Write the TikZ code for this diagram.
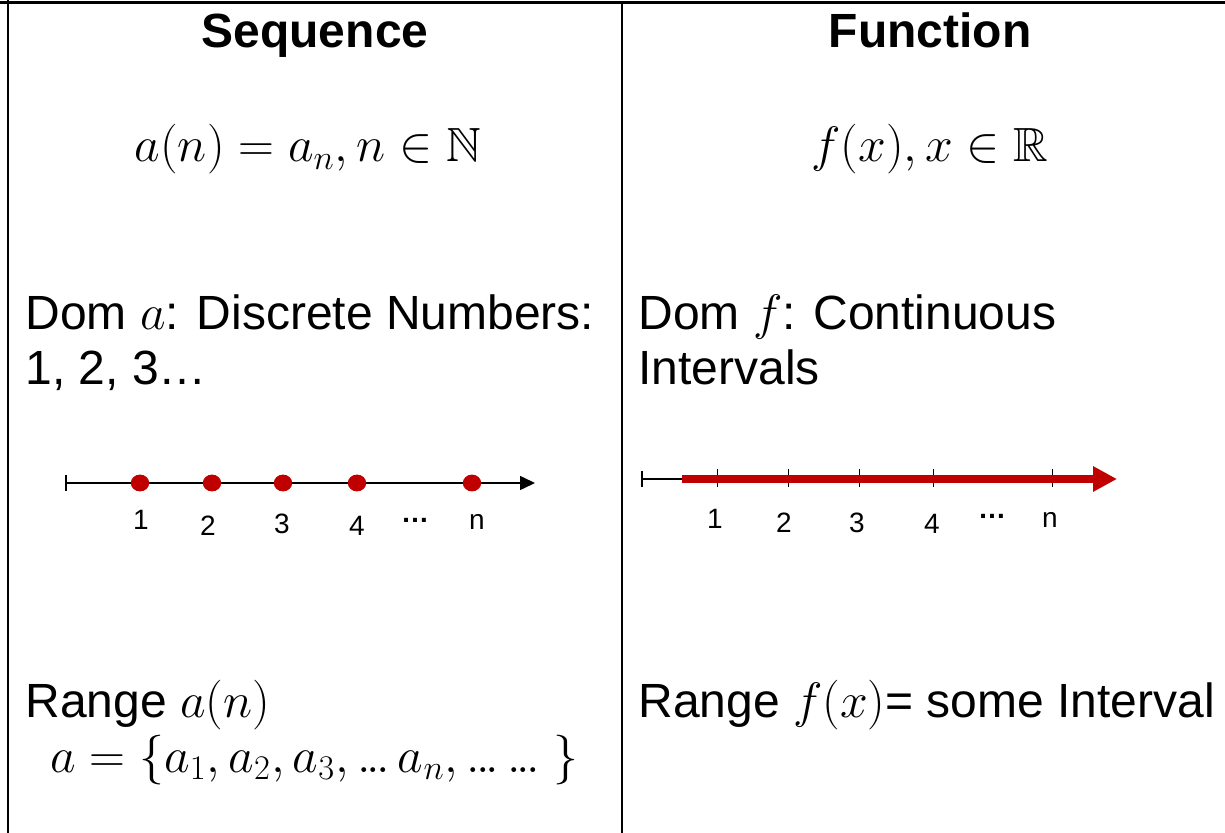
\documentclass[tikz,border=0pt]{standalone}
\usepackage{amssymb}
\usepackage{fontspec}
\setmainfont{Liberation Sans}
\usetikzlibrary{arrows.meta}
\definecolor{dotred}{HTML}{C00000}
\newcommand{\tdots}{\mathord{.\kern-2pt.\kern-2pt.}}
\tikzset{
  big/.style={inner sep=0pt, font=\fontsize{24}{28}\selectfont},
  ttl/.style={inner sep=0pt, font=\fontsize{24}{28}\selectfont\bfseries},
  lbl/.style={inner sep=0pt, anchor=base, font=\fontsize{14}{16}\selectfont},
  border/.style={line width=1pt, black},
  axis/.style={line width=0.75pt, black},
  tick/.style={line width=0.5pt, black},
  dot/.style={fill=dotred, draw=none}
}
\begin{document}
\begin{tikzpicture}[x=0.5pt, y=-0.5pt]
\useasboundingbox (0,0) rectangle (1225,833);
% table lines
\draw[border, line width=1.5pt] (0,3) -- (1225,3);
\draw[border] (8,0) -- (8,833);
\draw[border, line width=0.75pt] (622,3) -- (622,833);
% titles
\node[ttl, anchor=base] (t1) at (315,48) {Sequence};
\node[ttl, anchor=base] (t2) at (930,48) {Function};
% formulas
\node[big, anchor=base] (m1) at (308,162) {$a(n)=a_n, n\in\mathbb{N}$};
\node[big, anchor=base] (m2) at (930,162) {$f(x), x\in\mathbb{R}$};
% domain texts
\node[big, anchor=base west] (d1) at (25,330) {Dom $a$: Discrete Numbers:};
\node[big, anchor=base west] (d2) at (25,385) {1, 2, 3\ldots};
\node[big, anchor=base west] (d3) at (638,330) {Dom $f$: Continuous};
\node[big, anchor=base west] (d4) at (638,385) {Intervals};
% range texts
\node[big, anchor=base west] (r1) at (25,717) {Range $a(n)$};
\node[big, anchor=base west] (r2) at (50,772) {$a=\{a_1,a_2,a_3,\tdots\, a_n,\tdots\,\tdots\;\}$};
\node[big, anchor=base west] (r3) at (638,717) {Range $f(x)$= some Interval};
% left number line
\coordinate (ls) at (65,483);
\coordinate (le) at (535,483);
\draw[axis, {Bar[width=8pt]}-{Triangle[length=7.5pt,width=7pt]}] (ls) -- (le);
\foreach \x in {140,212,283,357,472}
  \fill[dot] (\x,483) ellipse [x radius=4.6pt, y radius=4.2pt];
\node[lbl] (l1) at (141,530) {1};
\node[lbl] (l2) at (208,535) {2};
\node[lbl] (l3) at (282,533) {3};
\node[lbl] (l4) at (357,536) {4};
\node[lbl, font=\fontsize{14}{16}\selectfont\bfseries] (l5) at (415,523) {\ldots};
\node[lbl] (l6) at (477,530) {n};
% right number line
\coordinate (rs) at (641,479);
\coordinate (rm) at (682,479);
\coordinate (re) at (1117,479);
\draw[axis, {Bar[width=8pt]}-] (rs) -- (rm);
\foreach \x in {717,788,859,933,1052}
  \draw[tick] (\x,469) -- (\x,487);
\draw[dotred, line width=4pt, -{Triangle[length=12pt,width=12pt]}] (rm) -- (re);
\node[lbl] (q1) at (715,528) {1};
\node[lbl] (q2) at (784,532) {2};
\node[lbl] (q3) at (857,532) {3};
\node[lbl] (q4) at (932,533) {4};
\node[lbl, font=\fontsize{14}{16}\selectfont\bfseries] (q5) at (992,518) {\ldots};
\node[lbl] (q6) at (1050,527) {n};
\end{tikzpicture}
\end{document}
